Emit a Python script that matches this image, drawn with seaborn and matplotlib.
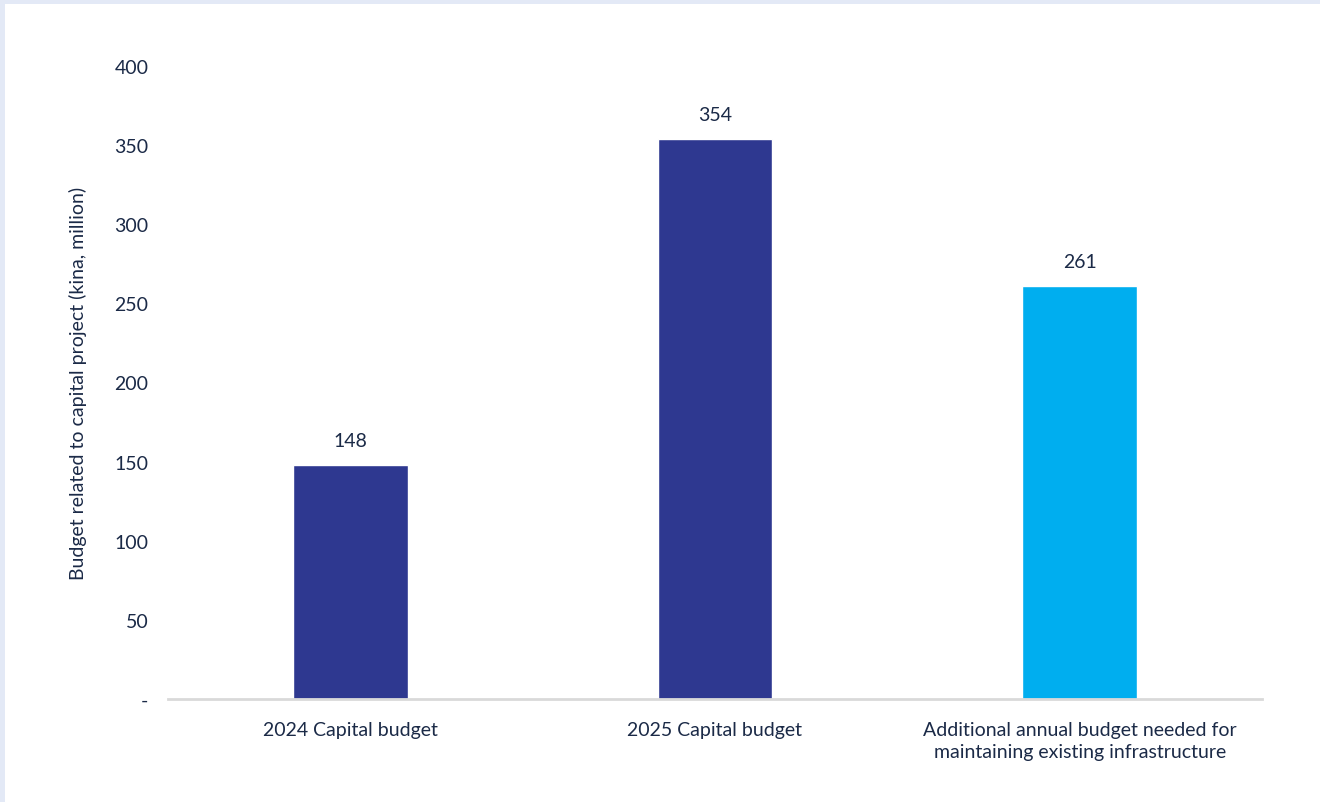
import matplotlib
matplotlib.use("Agg")
import matplotlib.pyplot as plt
from matplotlib.patches import Rectangle
import seaborn as sns
import pandas as pd

categories = [
    "2024 Capital budget",
    "2025 Capital budget",
    "Additional annual budget needed for\nmaintaining existing infrastructure",
]
values = [148, 354, 261]
colors = ["#2e3890", "#2e3890", "#00aeef"]
y_ticks = [0, 50, 100, 150, 200, 250, 300, 350, 400]
y_tick_labels = ["-", "50", "100", "150", "200", "250", "300", "350", "400"]
y_label = "Budget related to capital project (kina, million)"

sns.set_theme(style="white")
plt.rcParams["font.family"] = ["Lato", "DejaVu Sans"]
text_color = "#1b2a47"
fs = 14

df = pd.DataFrame({"category": categories, "value": values})

fig = plt.figure(figsize=(13.2, 8.03), dpi=100, facecolor="#e3e9f6")
panel = Rectangle((5 / 1320, 0), 1, 1 - 4.5 / 803, transform=fig.transFigure,
                  facecolor="white", edgecolor="none", zorder=-10)
fig.patches.append(panel)
ax = fig.add_axes([168 / 1320, 103 / 803, (1262 - 168) / 1320, (700 - 67) / 803])
ax.set_facecolor("none")

sns.barplot(data=df, x="category", y="value", hue="category", palette=colors,
            legend=False, width=0.315, saturation=1, ax=ax)

for i, v in enumerate(values):
    ax.annotate(f"{v}", xy=(i, v), xytext=(0, 17.5), textcoords="offset points",
                ha="center", va="center", fontsize=fs, color=text_color)

ax.set_xlim(-0.5, 2.5)
ax.set_ylim(0, 400)
ax.set_yticks(y_ticks)
ax.set_yticklabels(y_tick_labels)
ax.set_xlabel("")
ax.set_ylabel(y_label, fontsize=fs, color=text_color, labelpad=20)
ax.tick_params(axis="both", length=0, labelsize=fs, colors=text_color)
ax.tick_params(axis="y", pad=14)
ax.tick_params(axis="x", pad=16)
for lbl in ax.get_xticklabels():
    lbl.set_linespacing(1.35)

for side in ["top", "right", "left"]:
    ax.spines[side].set_visible(False)
ax.spines["bottom"].set_color("#d9d9d9")
ax.spines["bottom"].set_linewidth(2)

fig.savefig("out.png", dpi=100, facecolor=fig.get_facecolor())
